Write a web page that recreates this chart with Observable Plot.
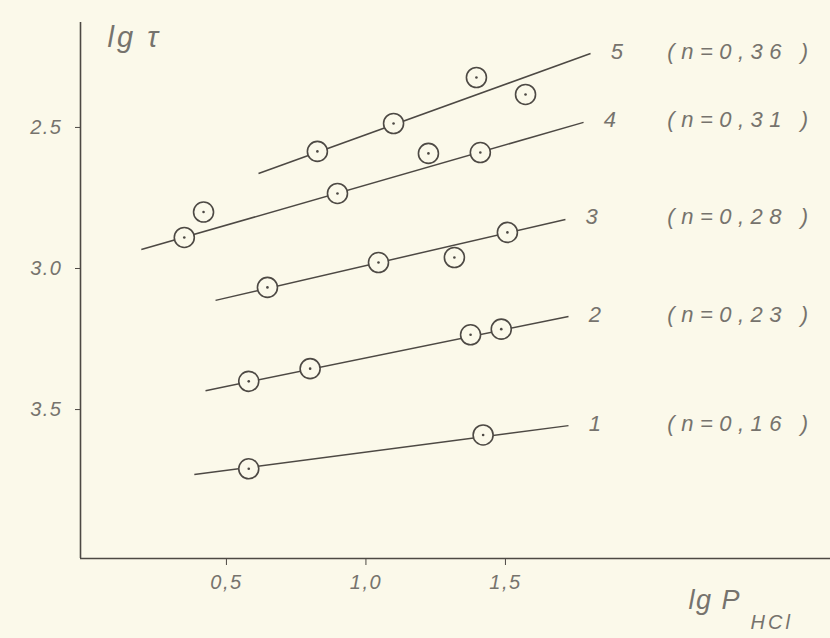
<!DOCTYPE html>
<html>
<head>
<meta charset="utf-8">
<script src="https://cdn.jsdelivr.net/npm/d3@7"></script>
<script src="https://cdn.jsdelivr.net/npm/@observablehq/plot@0.6"></script>
<style>
  html, body { margin: 0; padding: 0; background: #fbf9ea; }
  #chart svg { display: block; }
</style>
</head>
<body>
<div id="chart"></div>
<script>
// ---- data ----
const seriesIds = ["1", "2", "3", "4", "5"];
const nLabels = ["(n=0,16 )", "(n=0,23 )", "(n=0,28 )", "(n=0,31 )", "(n=0,36 )"];

// measured points (x = lg P_HCl, y = lg τ, axis value as printed)
const s1X = [0.58, 1.42];
const s1Y = [3.71, 3.59];
const s2X = [0.58, 0.80, 1.375, 1.485];
const s2Y = [3.40, 3.355, 3.235, 3.215];
const s3X = [0.647, 1.045, 1.317, 1.507];
const s3Y = [3.067, 2.979, 2.961, 2.872];
const s4X = [0.349, 0.418, 0.898, 1.224, 1.41];
const s4Y = [2.89, 2.80, 2.734, 2.592, 2.589];
const s5X = [0.826, 1.099, 1.396, 1.572];
const s5Y = [2.585, 2.486, 2.323, 2.383];

// fitted lines: start and end of each line, series 1..5
const lineX1 = [0.385, 0.425, 0.461, 0.195, 0.615];
const lineY1 = [3.730, 3.433, 3.113, 2.933, 2.663];
const lineX2 = [1.726, 1.726, 1.715, 1.780, 1.805];
const lineY2 = [3.557, 3.170, 2.826, 2.482, 2.238];

// axes
const xDomain = [-0.023, 2.665];
const yDomain = [2.128, 4.028];
const xTicks = [0.5, 1.0, 1.5];
const xTickLabels = ["0,5", "1,0", "1,5"];
const yTicks = [2.5, 3.0, 3.5];
const yTickLabels = ["2.5", "3.0", "3.5"];
const yTitle = "lg τ";
const xTitle = "lg P";
const xTitleSub = "HCl";

// ---- build table ----
const allX = [s1X, s2X, s3X, s4X, s5X];
const allY = [s1Y, s2Y, s3Y, s4Y, s5Y];
const points = [];
allX.forEach((xs, k) => xs.forEach((x, j) => points.push({series: seriesIds[k], x, y: allY[k][j]})));
const lines = seriesIds.map((s, i) => ({series: s, x1: lineX1[i], y1: lineY1[i], x2: lineX2[i], y2: lineY2[i], n: nLabels[i]}));

const ink = "#4d4944";
const textInk = "#76736d";
const bg = "#fbf9ea";
const font = "'Liberation Sans', Arial, sans-serif";

const chart = Plot.plot({
  width: 830,
  height: 638,
  marginLeft: 80,
  marginRight: 0,
  marginTop: 22,
  marginBottom: 80,
  style: {background: bg, fontFamily: font, fontStyle: "italic", letterSpacing: "1.5px", color: textInk},
  x: {domain: xDomain},
  y: {domain: yDomain, reverse: true},
  marks: [
    Plot.ruleX([xDomain[0]], {stroke: ink, strokeWidth: 1.6}),
    Plot.ruleY([yDomain[1]], {stroke: ink, strokeWidth: 1.6}),
    Plot.axisX({ticks: xTicks, tickFormat: d => xTickLabels[xTicks.indexOf(d)], tickSize: 7, tickPadding: 9,
                fontSize: 20, stroke: ink, fill: textInk, label: null}),
    Plot.axisY({ticks: yTicks, tickFormat: d => yTickLabels[yTicks.indexOf(d)], tickSize: 5, tickPadding: 13,
                fontSize: 20, stroke: ink, fill: textInk, label: null}),
    Plot.link(lines, {x1: "x1", y1: "y1", x2: "x2", y2: "y2", stroke: ink, strokeWidth: 1.5}),
    Plot.dot(points, {x: "x", y: "y", r: 10, fill: bg, stroke: ink, strokeWidth: 1.6}),
    Plot.dot(points, {x: "x", y: "y", r: 1.3, fill: ink, stroke: null}),
    Plot.text(lines, {x: "x2", y: "y2", text: "series", dx: 27, dy: -2, fontSize: 22, fill: textInk, textAnchor: "middle"}),
    Plot.text(lines, {y: "y2", frameAnchor: "right", text: "n", dx: -16, dy: -2, fontSize: 22, fill: textInk, textAnchor: "end"}),
    Plot.text([yTitle], {frameAnchor: "top-left", text: d => d, dx: 27, dy: 4, fontSize: 29, fill: textInk, textAnchor: "start"}),
    Plot.text([xTitle], {frameAnchor: "bottom-right", text: d => d, dx: -142, dy: 50, fontSize: 27, fill: textInk, textAnchor: "start"}),
    Plot.text([xTitleSub], {frameAnchor: "bottom-right", text: d => d, dx: -80, dy: 70, fontSize: 20, fill: textInk, textAnchor: "start"})
  ]
});
const spacing = new Map([...nLabels.map(t => [t, "6.5px"]), [yTitle, "3px"], [xTitleSub, "3px"]]);
d3.select(chart).selectAll("text").each(function () {
  const s = spacing.get(this.textContent);
  if (s) this.style.letterSpacing = s;
});
document.getElementById("chart").appendChild(chart);
</script>
</body>
</html>
